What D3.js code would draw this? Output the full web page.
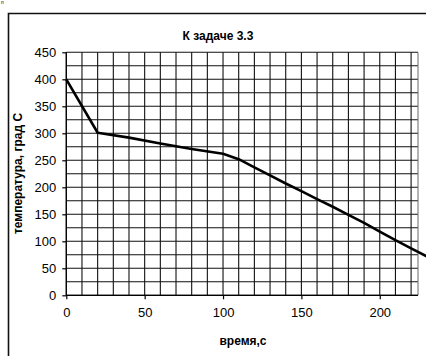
<!DOCTYPE html>
<html><head><meta charset="utf-8">
<script src="https://cdn.jsdelivr.net/npm/d3@7"></script>
<style>body{margin:0;background:#fff}svg{display:block}text{font-family:"Liberation Sans",Arial,sans-serif}</style>
</head><body>
<script>
const title = "К задаче 3.3";
const xTitle = "время,с";
const yTitle = "температура, град С";
const timeValues = [0, 20, 40, 60, 80, 100, 110, 120, 130, 140, 150, 160, 170, 180, 190, 200, 210, 220, 240];
const tempValues = [400, 301, 292, 281, 271, 262, 252, 237, 222, 207, 193, 178, 164, 149, 134, 118, 102, 87, 57];
const xTicks = [0, 50, 100, 150, 200];
const yTicks = [0, 50, 100, 150, 200, 250, 300, 350, 400, 450];
const xGrid = d3.range(0, 221, 10);
const yGrid = d3.range(0, 451, 25);

const W = 426, H = 356;
const svg = d3.select("body").append("svg").attr("width", W).attr("height", H);

// outer frame (extends past right/bottom)
svg.append("path").attr("d", "M8.5,360V13.5H430").attr("fill", "none").attr("stroke", "#111").attr("stroke-width", 1.6);
svg.append("text").attr("x", 1).attr("y", 4).attr("font-size", 5).text("п");

const x = d3.scaleLinear().domain([0, 224.4]).range([66.3, 418]);
const y = d3.scaleLinear().domain([0, 450]).range([295.3, 52.3]);

const g = svg.append("g");
g.selectAll("line.v").data(xGrid).join("line")
  .attr("x1", d => x(d)).attr("x2", d => x(d)).attr("y1", y(0)).attr("y2", y(450))
  .attr("stroke", "#111").attr("stroke-width", 1.1);
g.selectAll("line.h").data(yGrid).join("line")
  .attr("x1", x(0)).attr("x2", x(224.4)).attr("y1", d => y(d)).attr("y2", d => y(d))
  .attr("stroke", "#111").attr("stroke-width", 1.1);
g.append("line").attr("x1", x(224.4)).attr("x2", x(224.4)).attr("y1", y(0)).attr("y2", y(450)).attr("stroke", "#666").attr("stroke-width", 1);

const xAxis = d3.axisBottom(x).tickValues(xTicks).tickSize(4).tickPadding(8);
const yAxis = d3.axisLeft(y).tickValues(yTicks).tickSize(4).tickPadding(6);
const gx = svg.append("g").attr("transform", `translate(0,${y(0)})`).call(xAxis);
const gy = svg.append("g").attr("transform", `translate(${x(0)},0)`).call(yAxis);
[gx, gy].forEach(a => {
  a.select(".domain").attr("stroke", "#000").attr("stroke-width", 1.2);
  a.selectAll(".tick line").attr("stroke", "#000").attr("stroke-width", 1.2);
  a.selectAll(".tick text").attr("font-size", 13).attr("fill", "#000").attr("font-family", '"Liberation Sans",Arial,sans-serif');
});
gx.select(".domain").attr("d", `M${x(0)},0H${x(224.4)}`);
gy.select(".domain").attr("d", `M0,${y(0)}V${y(450)}`);

const line = d3.line().x((d, i) => x(timeValues[i])).y(d => y(d));
svg.append("path").datum(tempValues).attr("d", line)
  .attr("fill", "none").attr("stroke", "#000").attr("stroke-width", 2.6).attr("stroke-linejoin", "round");

svg.append("text").attr("x", 218).attr("y", 39.5).attr("text-anchor", "middle")
  .attr("font-size", 12).attr("font-weight", "bold").text(title);
svg.append("text").attr("x", 243).attr("y", 345).attr("text-anchor", "middle")
  .attr("font-size", 12).attr("font-weight", "bold").text(xTitle);
svg.append("text").attr("transform", "translate(22,173.5) rotate(-90)").attr("text-anchor", "middle")
  .attr("font-size", 12).attr("font-weight", "bold").text(yTitle);
</script>
</body></html>
